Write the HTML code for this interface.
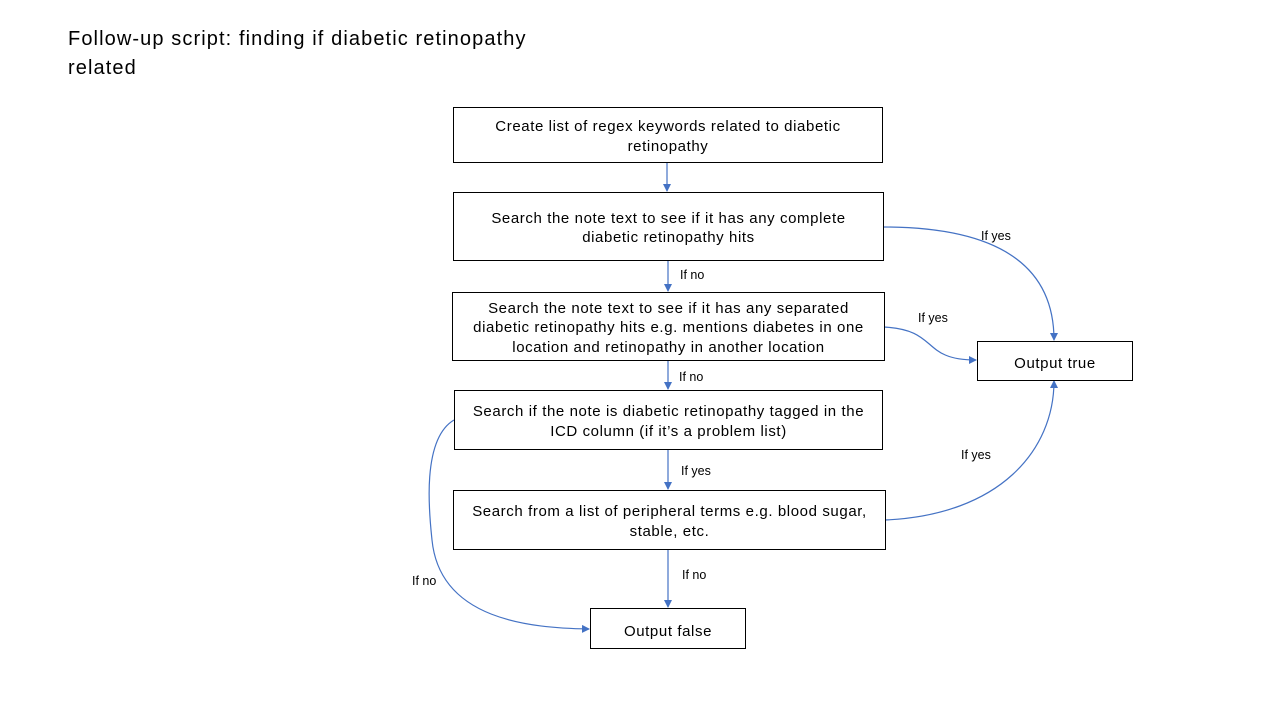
<!DOCTYPE html>
<html><head><meta charset="utf-8"><style>
body{margin:0;width:1280px;height:720px;background:#fff;position:relative;overflow:hidden;font-family:"Liberation Sans",sans-serif;color:#000}
.b{position:absolute;border:1px solid #000;box-sizing:border-box;display:flex;align-items:center;justify-content:center;text-align:center;font-size:15px;line-height:19.5px;letter-spacing:0.6px;background:#fff;padding-top:3px}
.l{position:absolute;font-size:12.5px}
</style></head><body>
<div style="position:absolute;left:68px;top:25px;font-size:20px;line-height:29px;letter-spacing:1.1px">Follow-up script: finding if diabetic retinopathy<br>related</div>
<svg width="1280" height="720" style="position:absolute;left:0;top:0">
<defs><marker id="a" markerWidth="8" markerHeight="8" refX="7" refY="4" orient="auto" markerUnits="userSpaceOnUse"><path d="M0,0L8,4L0,8z" fill="#4472C4"/></marker></defs>
<g stroke="#4472C4" stroke-width="1.2" fill="none" marker-end="url(#a)">
<path d="M667,162V191"/>
<path d="M668,260V291"/>
<path d="M668,360V389"/>
<path d="M668,449V489"/>
<path d="M668,549V607"/>
<path d="M883,227C990,227 1054,260 1054,340"/>
<path d="M884,327C940,330 920,360 976,360"/>
<path d="M885,520C1000,515 1054,450 1054,381"/>
<path d="M454,420C420,440 430,520 432,540C440,620 530,628 589,629"/>
</g></svg>
<div class="b" style="left:453px;top:107px;width:430px;height:56px">Create list of regex keywords related to diabetic<br>retinopathy</div>
<div class="b" style="left:453px;top:192px;width:431px;height:69px">Search the note text to see if it has any complete<br>diabetic retinopathy hits</div>
<div class="b" style="left:452px;top:292px;width:433px;height:69px">Search the note text to see if it has any separated<br>diabetic retinopathy hits e.g. mentions diabetes in one<br>location and retinopathy in another location</div>
<div class="b" style="left:454px;top:390px;width:429px;height:60px">Search if the note is diabetic retinopathy tagged in the<br>ICD column (if it’s a problem list)</div>
<div class="b" style="left:453px;top:490px;width:433px;height:60px">Search from a list of peripheral terms e.g. blood sugar,<br>stable, etc.</div>
<div class="b" style="left:977px;top:341px;width:156px;height:40px;padding-top:6px">Output true</div>
<div class="b" style="left:590px;top:608px;width:156px;height:41px;padding-top:6px">Output false</div>
<div class="l" style="left:981px;top:229px">If yes</div>
<div class="l" style="left:680px;top:268px">If no</div>
<div class="l" style="left:918px;top:311px">If yes</div>
<div class="l" style="left:679px;top:370px">If no</div>
<div class="l" style="left:681px;top:464px">If yes</div>
<div class="l" style="left:961px;top:448px">If yes</div>
<div class="l" style="left:682px;top:568px">If no</div>
<div class="l" style="left:412px;top:574px">If no</div>
</body></html>
